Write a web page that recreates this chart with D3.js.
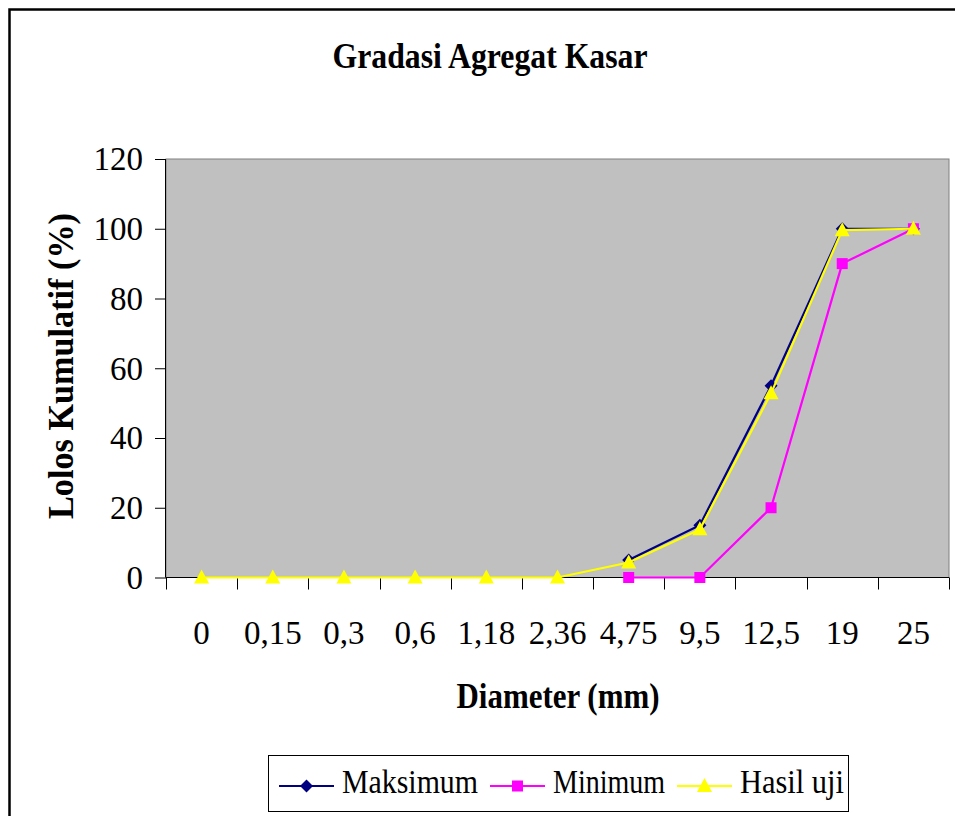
<!DOCTYPE html>
<html>
<head>
<meta charset="utf-8">
<script src="https://cdn.jsdelivr.net/npm/d3@7"></script>
<style>
  html, body { margin: 0; padding: 0; background: #fff; }
  svg { display: block; }
  text { font-family: "Liberation Serif", "Times New Roman", serif; fill: #000; }
</style>
</head>
<body>
<svg id="chart" width="955" height="816"></svg>
<script>
const categories = ["0", "0,15", "0,3", "0,6", "1,18", "2,36", "4,75", "9,5", "12,5", "19", "25"];
const maksimum = [null, null, null, null, null, null, 5, 15, 55, 100, 100];
const minimum  = [null, null, null, null, null, null, 0, 0, 20, 90, 100];
const hasilUji = [0, 0, 0, 0, 0, 0, 4.3, 13.8, 52.8, 99.6, 100];
const yTicks = [0, 20, 40, 60, 80, 100, 120];
const seriesNames = ["Maksimum", "Minimum", "Hasil uji"];

const svg = d3.select("#chart");
const plot = { left: 166, right: 949, top: 159, bottom: 577.5 };

// outer chart border
svg.append("rect").attr("x", 9.5).attr("y", 9.5).attr("width", 980).attr("height", 840)
  .attr("fill", "#fff").attr("stroke", "#000").attr("stroke-width", 2.5);

// title
svg.append("text").attr("x", 490).attr("y", 68).attr("text-anchor", "middle")
  .attr("font-size", 36).attr("font-weight", "bold")
  .attr("textLength", 315).attr("lengthAdjust", "spacingAndGlyphs")
  .text("Gradasi Agregat Kasar");

const x = d3.scaleBand().domain(categories).range([plot.left, plot.right]).padding(0);
const y = d3.scaleLinear().domain([0, 120]).range([plot.bottom, plot.top]);

// plot area
svg.append("rect").attr("x", plot.left).attr("y", plot.top)
  .attr("width", plot.right - plot.left).attr("height", plot.bottom - plot.top)
  .attr("fill", "#C0C0C0").attr("stroke", "#808080").attr("stroke-width", 1);

// Y axis
const yAxis = d3.axisLeft(y).tickValues(yTicks).tickSize(11).tickPadding(12).tickFormat(d3.format("d"));
const gy = svg.append("g").attr("transform", `translate(${plot.left},0)`).call(yAxis);
gy.select(".domain").attr("stroke", "#000").attr("d", `M-0.5,${plot.top}V${plot.bottom}`);
gy.selectAll(".tick line").attr("stroke", "#000");
gy.selectAll(".tick text").attr("font-size", 33).attr("font-family", "Liberation Serif").attr("fill", "#000")
  .attr("dy", "0.33em");

// X axis (ticks at category boundaries)
const gx = svg.append("g").attr("transform", `translate(0,${plot.bottom})`);
gx.append("line").attr("x1", plot.left).attr("x2", plot.right).attr("y1", 0).attr("y2", 0).attr("stroke", "#000");
const boundaries = categories.map(c => x(c)).concat([x(categories[categories.length - 1]) + x.bandwidth()]);
gx.selectAll("line.tk").data(boundaries).enter().append("line").attr("class", "tk")
  .attr("x1", d => Math.round(d) + 0.5).attr("x2", d => Math.round(d) + 0.5)
  .attr("y1", 0).attr("y2", 12).attr("stroke", "#000");
gx.selectAll("text").data(categories).enter().append("text")
  .attr("x", d => x(d) + x.bandwidth() / 2).attr("y", 66)
  .attr("text-anchor", "middle").attr("font-size", 33).text(d => d);

// axis titles
svg.append("text").attr("x", 558).attr("y", 708).attr("text-anchor", "middle")
  .attr("font-size", 36).attr("font-weight", "bold")
  .attr("textLength", 203).attr("lengthAdjust", "spacingAndGlyphs")
  .text("Diameter (mm)");
svg.append("text").attr("transform", "translate(73,366) rotate(-90)").attr("text-anchor", "middle")
  .attr("font-size", 35).attr("font-weight", "bold")
  .attr("textLength", 306).attr("lengthAdjust", "spacingAndGlyphs")
  .text("Lolos Kumulatif (%)");

// series
const series = [
  { name: seriesNames[0], values: maksimum, color: "#000080", marker: "diamond" },
  { name: seriesNames[1], values: minimum, color: "#FF00FF", marker: "square" },
  { name: seriesNames[2], values: hasilUji, color: "#FFFF00", marker: "triangle" }
];
function markerPath(type) {
  if (type === "diamond") return "M0,-6.5L6.5,0L0,6.5L-6.5,0Z";
  if (type === "square") return "M-5.5,-5.5H5.5V5.5H-5.5Z";
  return "M0,-8L7.5,6L-7.5,6Z";
}
const line = d3.line().defined(d => d.v !== null)
  .x(d => x(d.c) + x.bandwidth() / 2).y(d => y(d.v));
series.forEach(s => {
  const pts = categories.map((c, i) => ({ c, v: s.values[i] }));
  const g = svg.append("g");
  g.append("path").datum(pts).attr("d", line).attr("fill", "none")
    .attr("stroke", s.color).attr("stroke-width", 2.2);
  g.selectAll("path.m").data(pts.filter(p => p.v !== null)).enter().append("path").attr("class", "m")
    .attr("transform", p => `translate(${x(p.c) + x.bandwidth() / 2},${y(p.v)})`)
    .attr("d", markerPath(s.marker)).attr("fill", s.color);
});

// legend
const lg = svg.append("g");
lg.append("rect").attr("x", 268.5).attr("y", 755.5).attr("width", 580).attr("height", 56)
  .attr("fill", "#fff").attr("stroke", "#000").attr("stroke-width", 1);
const legendX = [279, 490, 677];
const legendW = [136, 112, 104];
series.forEach((s, i) => {
  const x0 = legendX[i];
  lg.append("line").attr("x1", x0).attr("x2", x0 + 55).attr("y1", 786).attr("y2", 786)
    .attr("stroke", s.color).attr("stroke-width", 2.2);
  lg.append("path").attr("transform", `translate(${x0 + 27.5},786)`).attr("d", markerPath(s.marker)).attr("fill", s.color);
  lg.append("text").attr("x", x0 + 63).attr("y", 793).attr("font-size", 34)
    .attr("textLength", legendW[i]).attr("lengthAdjust", "spacingAndGlyphs").text(s.name);
});
</script>
</body>
</html>
